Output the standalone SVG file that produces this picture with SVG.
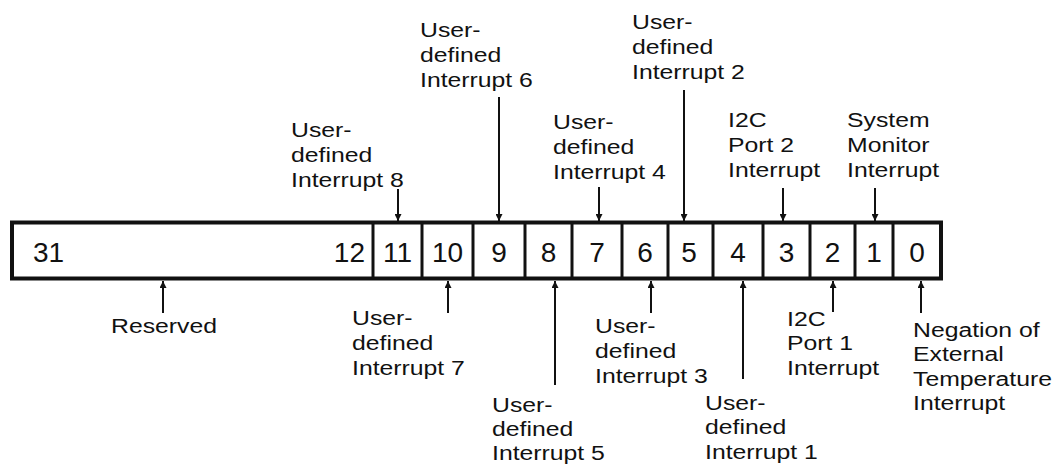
<svg xmlns="http://www.w3.org/2000/svg" width="1057" height="466" viewBox="0 0 1057 466">
<style>
.bit{font-family:"Liberation Sans",Arial,sans-serif;font-size:28px;fill:#111;text-anchor:middle}
.lbl{font-family:"Liberation Sans",Arial,sans-serif;font-size:21px;fill:#111}
.div{stroke:#111;stroke-width:3}
.arr{stroke:#111;stroke-width:2;fill:none;marker-end:url(#ah)}
</style>
<defs>
<marker id="ah" markerUnits="userSpaceOnUse" markerWidth="8" markerHeight="7" refX="7" refY="3.5" orient="auto">
<path d="M0,0 L7,3.5 L0,7 z" fill="#111"/>
</marker>
</defs>
<rect width="1057" height="466" fill="#fff"/>
<g id="register">
<rect x="12" y="222.5" width="929" height="56" fill="#fff" stroke="#111" stroke-width="4"/>
<line class="div" x1="373" y1="222" x2="373" y2="279"/>
<line class="div" x1="422" y1="222" x2="422" y2="279"/>
<line class="div" x1="473" y1="222" x2="473" y2="279"/>
<line class="div" x1="525" y1="222" x2="525" y2="279"/>
<line class="div" x1="572" y1="222" x2="572" y2="279"/>
<line class="div" x1="622" y1="222" x2="622" y2="279"/>
<line class="div" x1="668" y1="222" x2="668" y2="279"/>
<line class="div" x1="713" y1="222" x2="713" y2="279"/>
<line class="div" x1="763" y1="222" x2="763" y2="279"/>
<line class="div" x1="810" y1="222" x2="810" y2="279"/>
<line class="div" x1="855" y1="222" x2="855" y2="279"/>
<line class="div" x1="893" y1="222" x2="893" y2="279"/>
<text class="bit" x="33" y="262" style="text-anchor:start">31</text>
<text class="bit" x="365" y="262" style="text-anchor:end">12</text>
<text class="bit" x="397.5" y="262">11</text>
<text class="bit" x="447.5" y="262">10</text>
<text class="bit" x="499" y="262">9</text>
<text class="bit" x="548.5" y="262">8</text>
<text class="bit" x="597" y="262">7</text>
<text class="bit" x="645" y="262">6</text>
<text class="bit" x="689" y="262">5</text>
<text class="bit" x="738" y="262">4</text>
<text class="bit" x="786.5" y="262">3</text>
<text class="bit" x="832.5" y="262">2</text>
<text class="bit" x="874" y="262">1</text>
<text class="bit" x="917" y="262">0</text>
</g>
<g id="connectors">
<line class="arr" x1="398" y1="189" x2="398" y2="221"/>
<line class="arr" x1="499" y1="97" x2="499" y2="221"/>
<line class="arr" x1="599" y1="187" x2="599" y2="221"/>
<line class="arr" x1="684" y1="90" x2="684" y2="221"/>
<line class="arr" x1="783" y1="188" x2="783" y2="221"/>
<line class="arr" x1="875" y1="188" x2="875" y2="221"/>
<line class="arr" x1="163" y1="313" x2="163" y2="281"/>
<line class="arr" x1="448" y1="313" x2="448" y2="281"/>
<line class="arr" x1="555" y1="385" x2="555" y2="281"/>
<line class="arr" x1="651" y1="313" x2="651" y2="281"/>
<line class="arr" x1="743" y1="379" x2="743" y2="281"/>
<line class="arr" x1="833" y1="312" x2="833" y2="281"/>
<line class="arr" x1="921" y1="313" x2="921" y2="281"/>
</g>
<g id="label-ui8" transform="translate(291,137) scale(1.18,1)"><text class="lbl"><tspan x="0" y="0">User-</tspan><tspan x="0" dy="25">defined</tspan><tspan x="0" dy="25">Interrupt 8</tspan></text></g>
<g id="label-ui6" transform="translate(420,37) scale(1.18,1)"><text class="lbl"><tspan x="0" y="0">User-</tspan><tspan x="0" dy="25">defined</tspan><tspan x="0" dy="25">Interrupt 6</tspan></text></g>
<g id="label-ui4" transform="translate(553,129) scale(1.18,1)"><text class="lbl"><tspan x="0" y="0">User-</tspan><tspan x="0" dy="25">defined</tspan><tspan x="0" dy="25">Interrupt 4</tspan></text></g>
<g id="label-ui2" transform="translate(632,29) scale(1.18,1)"><text class="lbl"><tspan x="0" y="0">User-</tspan><tspan x="0" dy="25">defined</tspan><tspan x="0" dy="25">Interrupt 2</tspan></text></g>
<g id="label-i2c2" transform="translate(728,127) scale(1.18,1)"><text class="lbl"><tspan x="0" y="0">I2C</tspan><tspan x="0" dy="25">Port 2</tspan><tspan x="0" dy="25">Interrupt</tspan></text></g>
<g id="label-sysmon" transform="translate(847,127) scale(1.18,1)"><text class="lbl"><tspan x="0" y="0">System</tspan><tspan x="0" dy="25">Monitor</tspan><tspan x="0" dy="25">Interrupt</tspan></text></g>
<g id="label-reserved" transform="translate(111,333) scale(1.18,1)"><text class="lbl"><tspan x="0" y="0">Reserved</tspan></text></g>
<g id="label-ui7" transform="translate(352,325) scale(1.18,1)"><text class="lbl"><tspan x="0" y="0">User-</tspan><tspan x="0" dy="25">defined</tspan><tspan x="0" dy="25">Interrupt 7</tspan></text></g>
<g id="label-ui5" transform="translate(492,412) scale(1.18,1)"><text class="lbl"><tspan x="0" y="0">User-</tspan><tspan x="0" dy="24">defined</tspan><tspan x="0" dy="24">Interrupt 5</tspan></text></g>
<g id="label-ui3" transform="translate(595,333) scale(1.18,1)"><text class="lbl"><tspan x="0" y="0">User-</tspan><tspan x="0" dy="25">defined</tspan><tspan x="0" dy="25">Interrupt 3</tspan></text></g>
<g id="label-ui1" transform="translate(705,410) scale(1.18,1)"><text class="lbl"><tspan x="0" y="0">User-</tspan><tspan x="0" dy="24.5">defined</tspan><tspan x="0" dy="24.5">Interrupt 1</tspan></text></g>
<g id="label-i2c1" transform="translate(787,326) scale(1.18,1)"><text class="lbl"><tspan x="0" y="0">I2C</tspan><tspan x="0" dy="24.5">Port 1</tspan><tspan x="0" dy="24.5">Interrupt</tspan></text></g>
<g id="label-exttemp" transform="translate(913,337) scale(1.18,1)"><text class="lbl"><tspan x="0" y="0">Negation of</tspan><tspan x="0" dy="24.5">External</tspan><tspan x="0" dy="24.5">Temperature</tspan><tspan x="0" dy="24.5">Interrupt</tspan></text></g>
</svg>
